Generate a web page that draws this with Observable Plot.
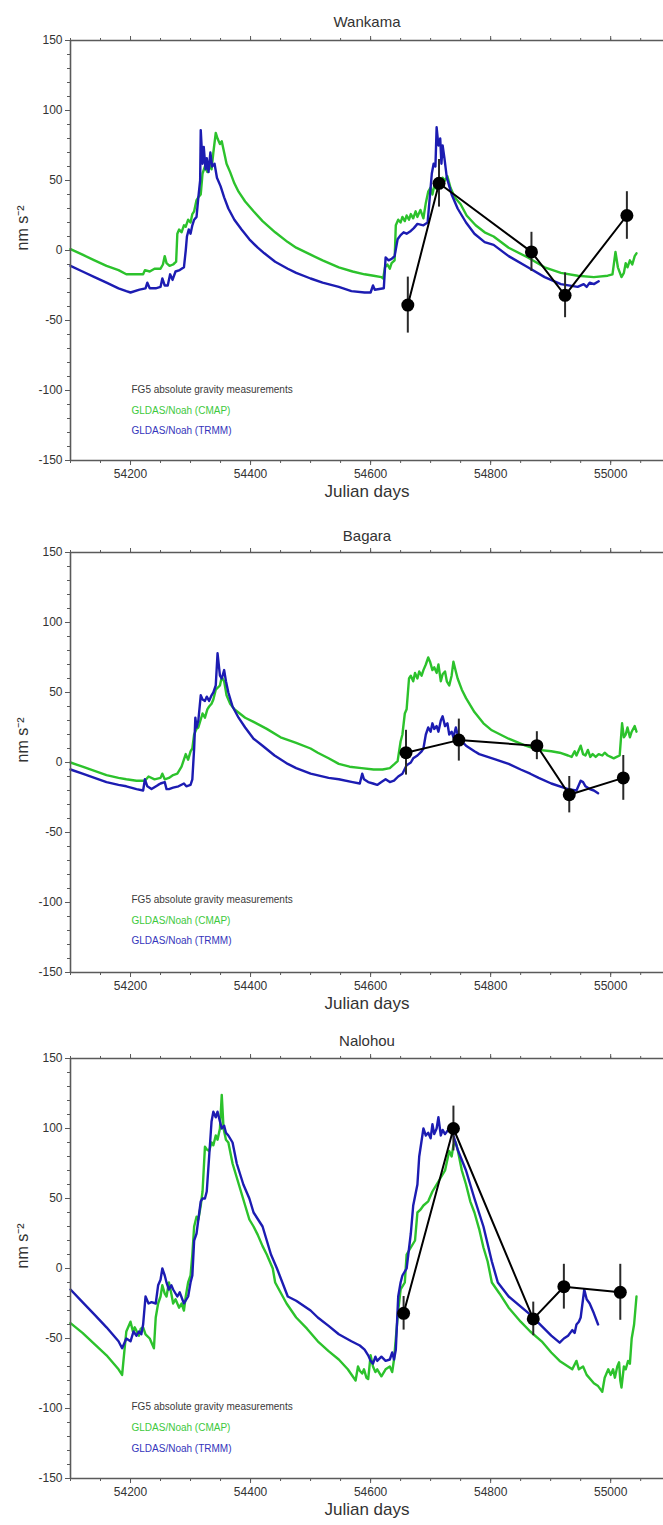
<!DOCTYPE html>
<html><head><meta charset="utf-8">
<script src="https://cdn.jsdelivr.net/npm/d3@7"></script>
<script src="https://cdn.jsdelivr.net/npm/@observablehq/plot@0.6"></script>
<style>
html,body{margin:0;padding:0;background:#fff;}
body{width:663px;height:1525px;overflow:hidden;}
#charts svg{display:block;}
</style></head><body><div id="charts"></div>
<script>
// ---------- shared axis settings ----------
const xDomain = [54100, 55088];
const yDomain = [-150, 150];
const xMajorTicks = [54200, 54400, 54600, 54800, 55000];
const xMinorTicks = d3.range(54100, 55088, 50);
const yMajorTicks = [-150, -100, -50, 0, 50, 100, 150];
const yMinorTicks = d3.range(-150, 151, 10);
const panelTitles = ["Wankama", "Bagara", "Nalohou"];
const xLabel = "Julian days";
const yLabel = "nm s\u207B\u00B2";
const legendLabels = ["FG5 absolute gravity measurements", "GLDAS/Noah (CMAP)", "GLDAS/Noah (TRMM)"];
const seriesColors = ["#222222", "#2cc22c", "#1c1cb2"];
const legendColors = ["#3a3a3a", "#3dc93d", "#3434bb"];

// ---------- Wankama ----------
const wankamaCmap = [[54100,1],[54120,-3],[54140,-7],[54160,-11],[54180,-14],[54193,-17],[54210,-17],[54221,-17],[54224,-14],[54232,-15],[54240,-13],[54250,-13],[54254,-10],[54257,-4],[54260,-9],[54265,-11],[54271,-10],[54276,-8],[54278,12],[54281,15],[54285,13],[54289,18],[54292,17],[54296,22],[54300,20],[54303,26],[54306,28],[54310,36],[54313,38],[54317,40],[54320,55],[54324,60],[54328,56],[54331,62],[54335,58],[54338,70],[54342,84],[54345,80],[54349,76],[54352,78],[54356,70],[54360,62],[54366,56],[54373,48],[54380,42],[54391,35],[54405,28],[54420,21],[54441,13],[54462,6],[54476,2],[54500,-3],[54520,-7],[54547,-12],[54570,-15],[54590,-17],[54605,-18],[54618,-19],[54621,-20],[54624,-12],[54628,-10],[54632,-13],[54635,-9],[54640,-7],[54642,18],[54646,22],[54650,20],[54653,24],[54657,21],[54660,25],[54664,22],[54667,26],[54671,23],[54675,28],[54678,24],[54683,29],[54688,23],[54692,34],[54696,42],[54700,45],[54703,40],[54706,46],[54710,44],[54713,48],[54717,46],[54720,52],[54724,50],[54728,53],[54733,45],[54740,38],[54750,33],[54760,25],[54775,18],[54790,13],[54805,10],[54830,2],[54862,-5],[54890,-12],[54917,-16],[54945,-18],[54972,-19],[54995,-18],[55003,-17],[55008,-1],[55012,-12],[55018,-19],[55022,-16],[55025,-9],[55028,-12],[55032,-7],[55036,-10],[55040,-4],[55043,-2]];
const wankamaTrmm = [[54100,-11],[54120,-15],[54140,-19],[54160,-23],[54180,-27],[54193,-29],[54200,-30],[54215,-28],[54225,-27],[54228,-23],[54232,-27],[54242,-27],[54250,-26],[54253,-20],[54257,-25],[54262,-25],[54266,-17],[54270,-21],[54275,-15],[54282,-14],[54289,-12],[54292,0],[54294,10],[54297,15],[54300,12],[54303,18],[54306,22],[54310,24],[54313,38],[54316,50],[54317,86],[54320,62],[54322,74],[54325,58],[54327,66],[54330,56],[54333,70],[54336,60],[54340,62],[54344,52],[54350,46],[54356,38],[54363,30],[54373,22],[54385,15],[54398,8],[54412,2],[54423,-2],[54441,-8],[54462,-13],[54476,-16],[54500,-20],[54520,-23],[54547,-26],[54568,-29],[54590,-30],[54600,-30],[54604,-25],[54607,-28],[54622,-27],[54625,-5],[54630,-7],[54635,-6],[54640,-4],[54645,8],[54650,11],[54655,13],[54660,12],[54667,14],[54672,16],[54678,19],[54688,18],[54695,20],[54699,40],[54702,55],[54705,62],[54708,60],[54710,88],[54713,75],[54716,80],[54718,62],[54720,75],[54723,66],[54727,52],[54735,40],[54745,30],[54759,20],[54773,12],[54790,6],[54805,4],[54830,-4],[54862,-12],[54890,-19],[54917,-24],[54945,-26],[54955,-24],[54960,-26],[54965,-23],[54972,-24],[54980,-22]];
const wankamaDays = [54662, 54714, 54868, 54924, 55027];
const wankamaValues = [-39, 48, -1, -32, 25];
const wankamaErrors = [20, 17, 14, 16, 17];

// ---------- Bagara ----------
const bagaraCmap = [[54100,0],[54120,-3],[54140,-6],[54160,-9],[54180,-11],[54193,-12],[54210,-13],[54224,-13],[54230,-10],[54240,-12],[54250,-11],[54253,-8],[54257,-12],[54264,-11],[54271,-9],[54278,-8],[54285,-3],[54292,6],[54296,2],[54300,8],[54303,10],[54306,20],[54310,24],[54313,25],[54320,35],[54324,32],[54328,38],[54331,40],[54335,42],[54338,45],[54342,52],[54349,55],[54352,61],[54356,58],[54360,48],[54366,42],[54373,38],[54391,32],[54405,29],[54427,24],[54450,18],[54476,14],[54500,10],[54512,7],[54530,3],[54547,-1],[54565,-3],[54585,-4],[54605,-5],[54620,-5],[54632,-4],[54640,-1],[54645,1],[54650,15],[54653,20],[54657,35],[54660,38],[54664,60],[54667,62],[54671,58],[54674,64],[54678,60],[54681,65],[54685,62],[54688,66],[54692,70],[54696,75],[54699,72],[54703,66],[54706,68],[54710,64],[54713,70],[54717,58],[54720,63],[54724,65],[54727,58],[54731,55],[54735,62],[54738,72],[54742,65],[54745,60],[54752,52],[54759,46],[54773,36],[54788,28],[54802,23],[54830,17],[54858,12],[54880,9],[54901,8],[54915,7],[54929,5],[54935,4],[54940,8],[54943,5],[54950,12],[54954,6],[54958,5],[54962,9],[54966,4],[54970,6],[54975,4],[54980,6],[54986,5],[54990,7],[54995,5],[55000,4],[55005,3],[55010,4],[55015,5],[55019,28],[55022,18],[55025,20],[55028,25],[55032,18],[55035,22],[55040,26],[55043,22]];
const bagaraTrmm = [[54100,-5],[54120,-8],[54140,-11],[54160,-14],[54180,-16],[54193,-17],[54210,-19],[54221,-20],[54224,-12],[54228,-17],[54235,-19],[54246,-16],[54250,-15],[54257,-14],[54260,-19],[54264,-19],[54271,-18],[54280,-17],[54289,-15],[54293,-17],[54300,-16],[54303,-12],[54306,10],[54308,32],[54310,25],[54313,30],[54317,48],[54320,45],[54324,44],[54327,47],[54331,44],[54335,48],[54338,50],[54342,55],[54345,78],[54349,62],[54352,60],[54356,66],[54359,58],[54363,50],[54370,40],[54380,32],[54391,25],[54405,17],[54420,12],[54440,5],[54462,-1],[54476,-4],[54500,-8],[54530,-11],[54547,-12],[54570,-14],[54582,-15],[54586,-8],[54589,-12],[54596,-14],[54604,-15],[54611,-16],[54618,-14],[54625,-12],[54632,-14],[54639,-13],[54646,-10],[54653,-8],[54660,-2],[54667,0],[54671,3],[54678,5],[54685,8],[54688,10],[54692,20],[54696,25],[54700,22],[54703,28],[54706,24],[54710,26],[54713,22],[54717,30],[54720,33],[54724,26],[54728,28],[54731,20],[54735,22],[54738,18],[54742,25],[54745,20],[54752,15],[54759,12],[54773,8],[54781,6],[54809,2],[54830,-1],[54850,-5],[54866,-8],[54880,-11],[54901,-15],[54929,-19],[54943,-20],[54950,-13],[54954,-14],[54958,-17],[54965,-19],[54972,-20],[54979,-22]];
const bagaraDays = [54659, 54747, 54877, 54931, 55021];
const bagaraValues = [7, 16, 12, -23, -11];
const bagaraErrors = [16, 15, 10, 13, 16];

// ---------- Nalohou ----------
const nalohouCmap = [[54100,-39],[54120,-46],[54140,-54],[54160,-62],[54180,-72],[54186,-76],[54190,-58],[54193,-45],[54200,-38],[54204,-45],[54207,-42],[54214,-48],[54217,-43],[54221,-42],[54225,-47],[54232,-50],[54239,-57],[54242,-35],[54246,-25],[54250,-20],[54253,-12],[54257,-18],[54260,-20],[54264,-10],[54268,-18],[54271,-25],[54275,-22],[54281,-28],[54285,-25],[54289,-30],[54292,-20],[54296,-10],[54300,-5],[54303,10],[54306,30],[54310,37],[54313,35],[54317,45],[54320,55],[54324,87],[54327,85],[54331,84],[54335,90],[54338,88],[54342,95],[54345,92],[54349,100],[54352,124],[54355,100],[54359,92],[54363,90],[54370,75],[54377,65],[54384,55],[54391,45],[54398,35],[54405,30],[54412,24],[54420,16],[54427,10],[54437,0],[54441,-10],[54460,-25],[54476,-35],[54494,-43],[54512,-52],[54530,-59],[54547,-65],[54562,-72],[54575,-80],[54579,-70],[54582,-73],[54586,-75],[54589,-72],[54593,-78],[54596,-79],[54600,-62],[54604,-70],[54608,-74],[54611,-72],[54618,-77],[54625,-72],[54632,-70],[54636,-74],[54639,-65],[54642,-50],[54646,-30],[54650,-15],[54657,-10],[54660,10],[54667,15],[54674,20],[54678,40],[54683,42],[54688,45],[54696,48],[54703,55],[54710,60],[54717,65],[54724,70],[54731,84],[54735,80],[54738,88],[54742,90],[54745,85],[54752,70],[54759,60],[54766,48],[54773,40],[54781,28],[54788,15],[54795,5],[54802,-10],[54815,-18],[54830,-28],[54850,-38],[54866,-45],[54885,-52],[54901,-60],[54915,-66],[54929,-70],[54936,-72],[54943,-66],[54947,-72],[54954,-70],[54960,-76],[54972,-82],[54979,-84],[54986,-88],[54990,-78],[54993,-75],[54996,-72],[55000,-76],[55004,-72],[55007,-78],[55011,-70],[55014,-67],[55016,-80],[55018,-85],[55022,-70],[55025,-72],[55029,-66],[55032,-68],[55035,-50],[55039,-40],[55043,-20]];
const nalohouTrmm = [[54100,-15],[54120,-24],[54140,-33],[54160,-42],[54180,-52],[54186,-57],[54190,-53],[54193,-50],[54200,-52],[54205,-45],[54210,-48],[54214,-45],[54218,-47],[54221,-40],[54225,-20],[54230,-25],[54235,-24],[54242,-25],[54246,-12],[54250,-8],[54253,0],[54257,-5],[54260,-10],[54264,-15],[54268,-12],[54271,-15],[54278,-20],[54282,-17],[54289,-25],[54296,-20],[54300,-10],[54303,-5],[54306,20],[54310,25],[54313,35],[54317,48],[54320,50],[54324,50],[54327,55],[54331,80],[54335,105],[54338,112],[54342,108],[54345,112],[54349,105],[54352,100],[54356,102],[54359,97],[54363,95],[54370,90],[54377,75],[54388,60],[54398,50],[54405,40],[54420,30],[54434,10],[54444,0],[54462,-20],[54476,-23],[54500,-30],[54512,-35],[54530,-41],[54547,-47],[54568,-52],[54582,-55],[54590,-58],[54596,-62],[54600,-66],[54604,-68],[54608,-63],[54611,-66],[54618,-63],[54625,-66],[54632,-65],[54636,-60],[54639,-65],[54642,-58],[54646,-20],[54650,-10],[54653,-5],[54660,0],[54667,25],[54671,45],[54678,60],[54681,80],[54688,100],[54692,95],[54696,97],[54700,93],[54703,103],[54706,96],[54710,100],[54713,108],[54717,95],[54720,99],[54724,96],[54731,100],[54738,95],[54745,85],[54759,70],[54773,50],[54788,30],[54802,5],[54812,-10],[54830,-20],[54866,-33],[54901,-48],[54915,-53],[54922,-50],[54929,-48],[54936,-44],[54940,-46],[54943,-40],[54947,-38],[54950,-35],[54956,-15],[54960,-22],[54965,-25],[54972,-32],[54979,-40]];
const nalohouDays = [54655, 54738, 54871, 54922, 55016];
const nalohouValues = [-32, 100, -36, -13, -17];
const nalohouErrors = [12, 16, 12, 16, 20];

// ---------- build ----------
const toRows = arr => arr.map(([day, value]) => ({day, value}));
const toMeas = (days, vals, errs) => days.map((day, i) => ({day, value: vals[i], err: errs[i]}));
const panels = [
  {title: panelTitles[0], cmap: wankamaCmap, trmm: wankamaTrmm, meas: toMeas(wankamaDays, wankamaValues, wankamaErrors), height: 510, mt: 40, titleDy: -24, leg: [-68, -47, -27]},
  {title: panelTitles[1], cmap: bagaraCmap, trmm: bagaraTrmm, meas: toMeas(bagaraDays, bagaraValues, bagaraErrors), height: 512, mt: 42, titleDy: -22, leg: [-70, -49, -29]},
  {title: panelTitles[2], cmap: nalohouCmap, trmm: nalohouTrmm, meas: toMeas(nalohouDays, nalohouValues, nalohouErrors), height: 503, mt: 36, titleDy: -23, leg: [-69, -48, -27]}
];
const axisColor = "#5a5a5a";
const textColor = "#333";
const fmt = d => String(d);
const blank = () => "";

for (const p of panels) {
  const chart = Plot.plot({
    width: 663, height: p.height,
    marginTop: p.mt, marginBottom: p.height - p.mt - 420, marginLeft: 70, marginRight: 0,
    style: {fontFamily: "'Liberation Sans', Arial, Helvetica, sans-serif", fontSize: "12px", color: textColor, background: "#fff", overflow: "visible"},
    x: {domain: xDomain, axis: null},
    y: {domain: yDomain, axis: null},
    marks: [
      Plot.line(toRows(p.cmap), {x: "day", y: "value", stroke: seriesColors[1], strokeWidth: 2.4}),
      Plot.line(toRows(p.trmm), {x: "day", y: "value", stroke: seriesColors[2], strokeWidth: 2.4}),
      Plot.ruleX(p.meas, {x: "day", y1: d => d.value - d.err, y2: d => d.value + d.err, stroke: "#2a2a2a", strokeWidth: 2}),
      Plot.line(p.meas, {x: "day", y: "value", stroke: "#000", strokeWidth: 2}),
      Plot.dot(p.meas, {x: "day", y: "value", r: 6.5, fill: "#000", stroke: "none"}),
      // frame (top, bottom, left)
      Plot.ruleY(yDomain, {stroke: axisColor, strokeWidth: 1.6}),
      Plot.ruleX([xDomain[0]], {stroke: axisColor, strokeWidth: 1.6}),
      // axes
      Plot.axisX({anchor: "bottom", ticks: xMinorTicks, tickSize: 3, tickFormat: blank, label: null, stroke: axisColor}),
      Plot.axisX({anchor: "bottom", ticks: xMajorTicks, tickSize: 5, tickPadding: 4, tickFormat: fmt, label: null, stroke: axisColor, fill: textColor, fontSize: 12}),
      Plot.axisX({anchor: "top", ticks: xMinorTicks, tickSize: 3, tickFormat: blank, label: null, stroke: axisColor}),
      Plot.axisX({anchor: "top", ticks: xMajorTicks, tickSize: 5, tickFormat: blank, label: null, stroke: axisColor}),
      Plot.axisY({anchor: "left", ticks: yMinorTicks, tickSize: 3, tickFormat: blank, label: null, stroke: axisColor}),
      Plot.axisY({anchor: "left", ticks: yMajorTicks, tickSize: 5, tickPadding: 3, tickFormat: fmt, label: null, stroke: axisColor, fill: textColor, fontSize: 12}),
      // labels
      Plot.text([p.title], {text: d => d, frameAnchor: "top", dy: p.titleDy, fontSize: 15, fill: textColor}),
      Plot.text([xLabel], {text: d => d, frameAnchor: "bottom", dy: 36, fontSize: 17, fill: textColor}),
      Plot.text([yLabel], {text: d => d, frameAnchor: "left", dx: -48, rotate: -90, fontSize: 16, fill: textColor}),
      // legend
      ...legendLabels.map((lab, i) => Plot.text([lab], {text: d => d, frameAnchor: "bottom-left", textAnchor: "start", dx: 61, dy: p.leg[i], fontSize: 10, fill: legendColors[i]}))
    ]
  });
  document.getElementById("charts").appendChild(chart);
}
</script></body></html>
